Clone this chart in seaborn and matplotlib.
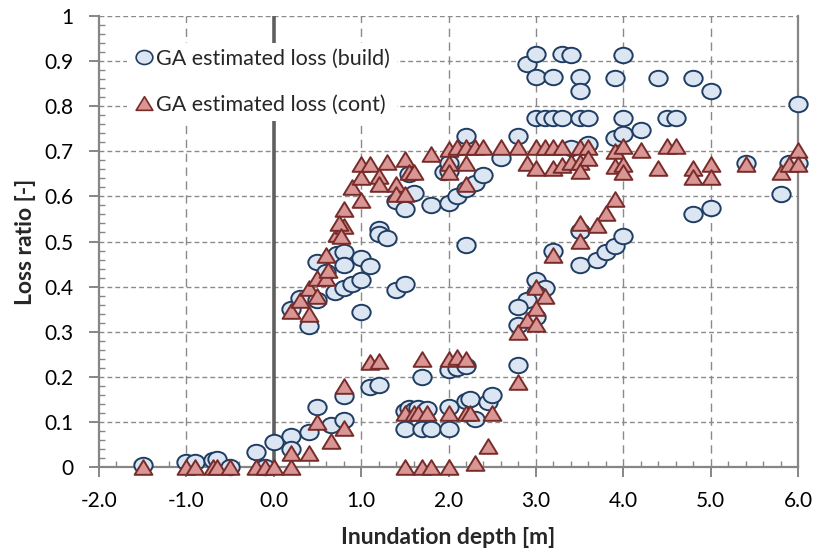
import numpy as np
import pandas as pd
import matplotlib
matplotlib.use("Agg")
import matplotlib.pyplot as plt
from matplotlib.path import Path
from matplotlib.lines import Line2D
from matplotlib.ticker import MultipleLocator, FixedLocator
import seaborn as sns

# ---------------- data ----------------
build_x = [-1.5, -1.0, -0.9, -0.7, -0.65, -0.5, -0.2, -0.1, 0.0,
           0.2, 0.2, 0.4, 0.5, 0.65, 0.8, 0.8, 1.1, 1.2, 1.5, 1.55, 1.6, 1.65, 1.75,
           1.5, 1.7, 1.8, 2.0, 1.7, 2.0, 2.1, 2.2, 2.0, 2.2, 2.25, 2.45, 2.5, 2.3,
           0.2, 0.4, 0.3, 0.5, 0.7, 0.8, 0.9, 1.0, 1.0, 1.4, 1.5, 0.5, 0.6, 0.72, 0.8, 0.8,
           1.0, 1.1, 1.2, 1.2, 1.3, 1.4, 1.5, 1.6, 1.8, 2.0, 1.55, 1.95,
           2.1, 2.2, 2.3, 2.4, 2.0, 2.0, 2.2, 2.2, 2.6, 2.8,
           2.9, 3.0, 3.3, 3.4, 4.0, 3.0, 3.2, 3.5, 3.5, 3.9, 4.4, 4.8, 5.0, 6.0,
           3.0, 3.1, 3.2, 3.3, 3.5, 3.6, 4.0, 4.5, 4.6,
           3.9, 4.0, 4.2, 3.4, 3.6, 5.4, 5.9, 6.0, 5.8, 4.8, 5.0,
           3.2, 3.5, 3.5, 3.7, 3.8, 3.9, 4.0, 3.0, 3.1, 3.0, 2.9, 2.8, 3.0, 2.8, 2.8]
build_y = [0.005, 0.012, 0.012, 0.016, 0.018, 0.0, 0.033, 0.0, 0.055,
           0.068, 0.04, 0.078, 0.133, 0.093, 0.104, 0.157, 0.177, 0.182, 0.124, 0.13, 0.126, 0.13, 0.128,
           0.085, 0.085, 0.085, 0.085, 0.2, 0.215, 0.22, 0.225, 0.133, 0.146, 0.15, 0.144, 0.16, 0.106,
           0.35, 0.312, 0.374, 0.37, 0.387, 0.398, 0.405, 0.414, 0.343, 0.392, 0.405, 0.454, 0.432, 0.473, 0.476, 0.447,
           0.464, 0.445, 0.528, 0.517, 0.508, 0.59, 0.573, 0.608, 0.582, 0.586, 0.65, 0.653,
           0.6, 0.617, 0.63, 0.648, 0.657, 0.673, 0.493, 0.734, 0.686, 0.734,
           0.894, 0.916, 0.916, 0.914, 0.914, 0.865, 0.865, 0.865, 0.834, 0.863, 0.863, 0.863, 0.834, 0.805,
           0.774, 0.774, 0.774, 0.774, 0.774, 0.774, 0.774, 0.774, 0.774,
           0.73, 0.739, 0.747, 0.708, 0.717, 0.675, 0.675, 0.675, 0.606, 0.562, 0.575,
           0.48, 0.524, 0.449, 0.46, 0.476, 0.49, 0.513, 0.414, 0.398, 0.385, 0.37, 0.354, 0.332, 0.314, 0.226]

cont_x = [-1.5, -1.0, -0.9, -0.7, -0.65, -0.5, -0.2, -0.1, 0.0, 0.2, 1.5, 1.7, 1.8, 2.0, 2.3, 2.45,
          0.2, 0.4, 0.5, 0.65, 0.8, 0.8, 1.1, 1.2, 1.7, 2.0, 2.1, 2.2,
          1.5, 1.6, 1.65, 1.75, 2.0, 2.2, 2.25, 2.5, 2.8,
          0.2, 0.4, 0.3, 0.4, 0.5, 0.5, 0.6, 0.6, 0.62, 0.72, 0.8, 0.8, 0.75, 0.77,
          0.9, 1.0, 1.0, 1.0, 1.1, 1.2, 1.2, 1.3, 1.4, 1.4, 1.5, 1.5, 1.55, 1.6, 1.8,
          2.0, 2.1, 2.2, 2.3, 2.4, 2.6, 2.8, 3.0, 3.1, 3.2, 3.3, 3.5, 3.6, 3.9, 4.0, 4.2, 4.5, 4.6, 6.0,
          2.0, 2.2, 2.9, 3.0, 3.2, 3.3, 3.4, 3.5, 3.6, 3.5, 3.9, 4.0, 4.0, 2.0, 2.2,
          4.4, 4.8, 4.8, 5.0, 5.0, 5.4, 5.8, 5.9, 6.0,
          3.9, 3.8, 3.7, 3.5, 3.5, 3.2, 3.0, 3.1, 3.0, 2.9, 3.0, 2.8]
cont_y = [0.0, 0.0, 0.0, 0.0, 0.0, 0.0, 0.0, 0.0, 0.0, 0.0, 0.0, 0.0, 0.0, 0.0, 0.009, 0.046,
          0.03, 0.03, 0.1, 0.058, 0.086, 0.179, 0.232, 0.235, 0.24, 0.24, 0.243, 0.24,
          0.12, 0.12, 0.12, 0.12, 0.12, 0.12, 0.12, 0.12, 0.188,
          0.347, 0.34, 0.37, 0.398, 0.38, 0.42, 0.42, 0.47, 0.436, 0.517, 0.573, 0.535, 0.54, 0.513,
          0.62, 0.593, 0.644, 0.672, 0.672, 0.646, 0.628, 0.677, 0.628, 0.606, 0.606, 0.683, 0.653, 0.655, 0.695,
          0.706, 0.71, 0.71, 0.71, 0.71, 0.71, 0.71, 0.71, 0.71, 0.71, 0.71, 0.71, 0.71, 0.70, 0.712, 0.703, 0.712, 0.712, 0.703,
          0.673, 0.673, 0.673, 0.664, 0.664, 0.67, 0.677, 0.677, 0.686, 0.657, 0.667, 0.672, 0.653, 0.653, 0.628,
          0.664, 0.664, 0.642, 0.672, 0.642, 0.672, 0.653, 0.672, 0.672,
          0.595, 0.564, 0.537, 0.54, 0.502, 0.471, 0.4, 0.38, 0.352, 0.327, 0.318, 0.3]

series_names = ["GA estimated loss (build)", "GA estimated loss (cont)"]
x_ticks = [-2.0, -1.0, 0.0, 1.0, 2.0, 3.0, 4.0, 5.0, 6.0]
x_tick_labels = ["-2.0", "-1.0", "0.0", "1.0", "2.0", "3.0", "4.0", "5.0", "6.0"]
y_ticks = [0.0, 0.1, 0.2, 0.3, 0.4, 0.5, 0.6, 0.7, 0.8, 0.9, 1.0]
y_tick_labels = ["0", "0.1", "0.2", "0.3", "0.4", "0.5", "0.6", "0.7", "0.8", "0.9", "1"]

# ---------------- style ----------------
sns.set_theme(style="white")
plt.rcParams['font.family'] = ['Lato', 'DejaVu Sans']

df_b = pd.DataFrame({"x": build_x, "y": build_y})
df_c = pd.DataFrame({"x": cont_x, "y": cont_y})

# custom markers (Excel-like ellipse and triangle)
circ = Path.unit_circle()
ellipse = Path(circ.vertices * np.array([1.0, 0.84]), circ.codes)
tri = Path([(0, 0.82), (-1, -0.82), (1, -0.82), (0, 0.82)],
           [Path.MOVETO, Path.LINETO, Path.LINETO, Path.CLOSEPOLY])

b_face, b_edge = "#dce6f2", "#1f3d63"
c_face, c_edge = "#d99694", "#772c2a"

fig = plt.figure(figsize=(8.16, 5.52), dpi=100)
ax = fig.add_axes([99/816, 1-467/552, (798-99)/816, (467-16)/552])

ax.set_xlim(-2, 6)
ax.set_ylim(0, 1)

grid_c = "#8a8a8a"
for yv in y_ticks[1:]:
    ax.axhline(yv, color=grid_c, lw=1.0, ls=(0, (3.5, 2.2)), zorder=1)
for xv in [-1, 1, 2, 3, 4, 5]:
    ax.axvline(xv, color=grid_c, lw=1.0, ls=(0, (6, 4)), zorder=1)
ax.axvline(0, color="#5f5f5f", lw=2.6, zorder=1.5)

sns.scatterplot(data=df_b, x="x", y="y", marker=ellipse, s=175, color=b_face,
                edgecolor=b_edge, linewidth=1.4, ax=ax, zorder=3, clip_on=False, legend=False)
sns.scatterplot(data=df_c, x="x", y="y", marker=tri, s=165, color=c_face,
                edgecolor=c_edge, linewidth=1.4, ax=ax, zorder=4, clip_on=False, legend=False)

# spines
for side in ["left", "bottom", "right"]:
    ax.spines[side].set_color("#868686")
    ax.spines[side].set_linewidth(1.6)
ax.spines["top"].set_visible(False)
ax.spines["left"].set_zorder(2)
ax.spines["bottom"].set_zorder(2)

ax.xaxis.set_major_locator(FixedLocator(x_ticks))
ax.set_xticklabels(x_tick_labels)
ax.xaxis.set_minor_locator(MultipleLocator(0.2))
ax.yaxis.set_major_locator(FixedLocator(y_ticks))
ax.set_yticklabels(y_tick_labels)
ax.yaxis.set_minor_locator(MultipleLocator(0.02))

ax.tick_params(which="major", direction="out", length=7, width=1.4, color="#868686",
               labelsize=15, labelcolor="black")
ax.tick_params(which="minor", direction="in", length=4, width=1.0, color="#868686")
ax.tick_params(axis="x", which="both", bottom=True, top=False)
ax.tick_params(axis="y", which="both", left=True, right=False)
ax.tick_params(axis="x", which="major", pad=10.5)
ax.tick_params(axis="y", which="major", pad=11.5)

ax.set_xlabel("Inundation depth [m]", fontsize=16.5, fontweight="bold", labelpad=11)
ax.set_ylabel("Loss ratio [-]", fontsize=16.5, fontweight="bold", labelpad=6)

handles = [
    Line2D([], [], ls="none", marker=ellipse, markersize=12, markerfacecolor=b_face,
           markeredgecolor=b_edge, markeredgewidth=1.2),
    Line2D([], [], ls="none", marker=tri, markersize=12, markerfacecolor=c_face,
           markeredgecolor=c_edge, markeredgewidth=1.2),
]
leg = ax.legend(handles, series_names, loc="upper left", bbox_to_anchor=(0.025, 0.965),
                frameon=True, fontsize=15.5, handletextpad=0.05, handlelength=1.0,
                labelspacing=1.2, borderpad=0.3)
leg.get_frame().set_facecolor("white")
leg.get_frame().set_edgecolor("none")
leg.get_frame().set_alpha(1.0)
leg.set_zorder(5)

fig.savefig("out.png", dpi=100)
